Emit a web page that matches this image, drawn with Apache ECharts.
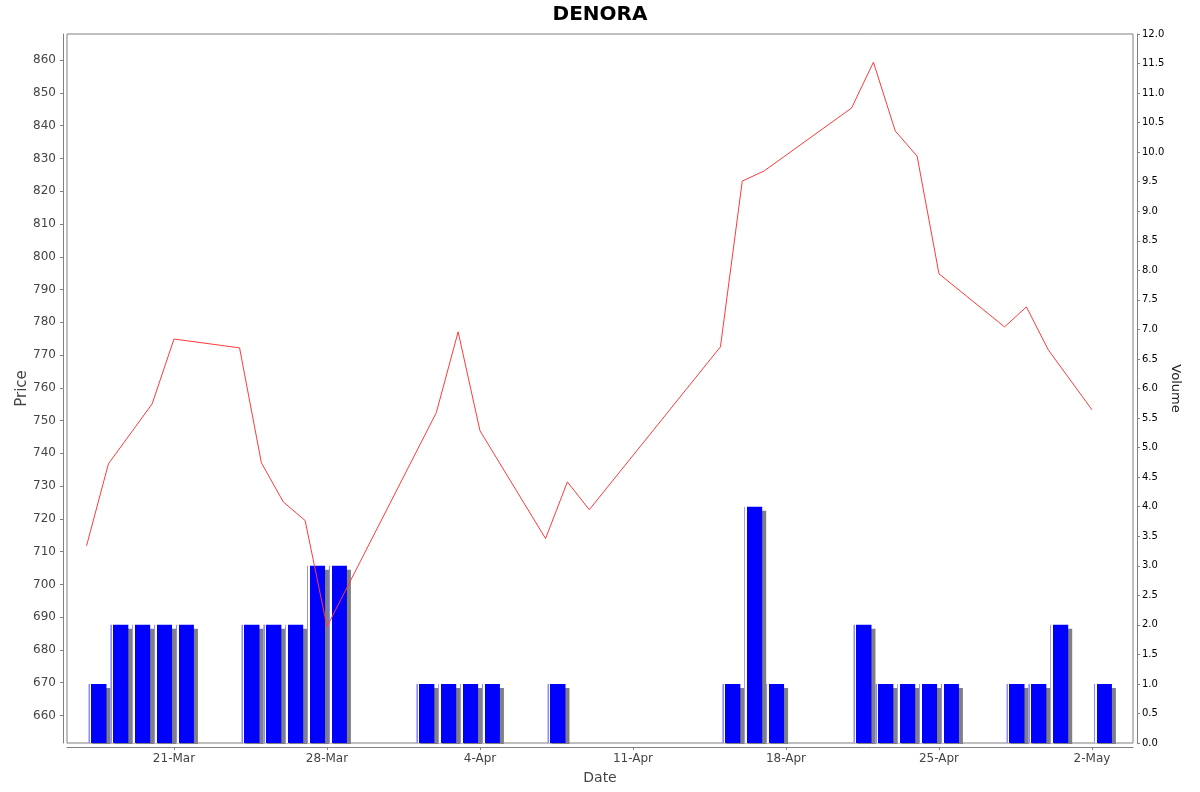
<!DOCTYPE html>
<html>
<head>
<meta charset="utf-8">
<script src="https://cdn.jsdelivr.net/npm/echarts@6/dist/echarts.min.js"></script>
<style>
  html, body { margin: 0; padding: 0; background: #fff; }
  #main { width: 1200px; height: 792px; }
</style>
</head>
<body>
<div id="main"></div>
<script>
// closing prices by trading day (2025)
const priceDates = ['2025-03-17', '2025-03-18', '2025-03-20', '2025-03-21', '2025-03-24', '2025-03-25',
  '2025-03-26', '2025-03-27', '2025-03-28', '2025-04-02', '2025-04-03', '2025-04-04', '2025-04-07',
  '2025-04-08', '2025-04-09', '2025-04-15', '2025-04-16', '2025-04-17', '2025-04-21', '2025-04-22',
  '2025-04-23', '2025-04-24', '2025-04-25', '2025-04-28', '2025-04-29', '2025-04-30', '2025-05-02'];
const prices = [711.8, 736.8, 755.1, 774.9, 772.2, 737.1,
  725.2, 719.5, 687.1, 752.4, 777.1, 746.9, 714.0,
  731.3, 722.8, 772.5, 823.1, 826.2, 845.4, 859.4,
  838.4, 830.7, 794.8, 778.6, 784.7, 771.6, 753.3];

// traded volume by day
const volDates = ['2025-03-17', '2025-03-18', '2025-03-19', '2025-03-20', '2025-03-21', '2025-03-24',
  '2025-03-25', '2025-03-26', '2025-03-27', '2025-03-28', '2025-04-01', '2025-04-02', '2025-04-03',
  '2025-04-04', '2025-04-07', '2025-04-15', '2025-04-16', '2025-04-17', '2025-04-21', '2025-04-22',
  '2025-04-23', '2025-04-24', '2025-04-25', '2025-04-28', '2025-04-29', '2025-04-30', '2025-05-02'];
const volumes = [1, 2, 2, 2, 2, 2,
  2, 2, 3, 3, 1, 1, 1,
  1, 1, 1, 4, 1, 2, 1,
  1, 1, 1, 1, 1, 2, 1];

const dateTicks = ['2025-03-21', '2025-03-28', '2025-04-04', '2025-04-11', '2025-04-18', '2025-04-25', '2025-05-02'];
const priceTicks = [660, 670, 680, 690, 700, 710, 720, 730, 740, 750, 760, 770, 780, 790, 800, 810, 820, 830, 840, 850, 860];

const DAY = 24 * 3600 * 1000;
const MONTHS = ['Jan', 'Feb', 'Mar', 'Apr', 'May', 'Jun', 'Jul', 'Aug', 'Sep', 'Oct', 'Nov', 'Dec'];

function toTime(s) {
  const p = s.split('-');
  return Date.UTC(+p[0], +p[1] - 1, +p[2]);
}

const xMin = toTime('2025-03-16') + 0.105 * DAY;
const xMax = toTime('2025-05-03') + 0.876 * DAY;

// bars cover the whole day, so centre them at midday
const barData = volDates.map((d, i) => [toTime(d) + DAY / 2, volumes[i]]);
const lineData = priceDates.map((d, i) => [toTime(d), prices[i]]);

const W = 1200, H = 792;
const GRID = { left: 67, right: 67, top: 34, bottom: 49 };

const chart = echarts.init(document.getElementById('main'));
const font = 'DejaVu Sans';

chart.setOption({
  backgroundColor: '#fff',
  animation: false,
  title: {
    text: 'DENORA',
    left: 'center',
    top: 0,
    textStyle: { fontFamily: font, fontSize: 20, fontWeight: 'bold', color: '#000' }
  },
  grid: {
    left: GRID.left, right: GRID.right, top: GRID.top, bottom: GRID.bottom,
    outerBoundsMode: 'none',
    containLabel: false,
    show: true, borderColor: '#808080', borderWidth: 1, backgroundColor: '#fff'
  },
  // white strip under the plot so the bar shadows stop at the plot edge
  graphic: [{
    type: 'rect',
    z: 100,
    silent: true,
    shape: { x: GRID.left, y: H - GRID.bottom + 1, width: W - GRID.left - GRID.right, height: 3 },
    style: { fill: '#fff' }
  }],
  xAxis: {
    type: 'value',
    min: xMin,
    max: xMax,
    offset: 4,
    name: 'Date',
    nameLocation: 'middle',
    nameGap: 24,
    nameTextStyle: { fontFamily: font, fontSize: 14, color: '#444' },
    axisLine: { show: true, onZero: false, lineStyle: { color: '#808080', width: 1 } },
    axisTick: { show: true, length: 3, customValues: dateTicks.map(toTime), lineStyle: { color: '#808080' } },
    axisLabel: {
      customValues: dateTicks.map(toTime),
      fontFamily: font, fontSize: 12, color: '#444', margin: 6,
      formatter: function (v) {
        const d = new Date(v);
        return d.getUTCDate() + '-' + MONTHS[d.getUTCMonth()];
      }
    },
    splitLine: { show: false }
  },
  yAxis: [
    {
      type: 'value',
      position: 'left',
      min: 651.6,
      max: 868.0,
      offset: 4,
      name: 'Price',
      nameLocation: 'middle',
      nameMoveOverlap: false,
      nameGap: 33,
      nameRotate: 90,
      nameTextStyle: { fontFamily: font, fontSize: 15, color: '#444' },
      axisLine: { show: true, onZero: false, lineStyle: { color: '#808080', width: 1 } },
      axisTick: { show: true, length: 3, customValues: priceTicks, lineStyle: { color: '#808080' } },
      axisLabel: { customValues: priceTicks, fontFamily: font, fontSize: 12, color: '#444', margin: 7 },
      splitLine: { show: false }
    },
    {
      type: 'value',
      position: 'right',
      min: 0,
      max: 12,
      interval: 0.5,
      offset: 4,
      name: 'Volume',
      nameLocation: 'middle',
      nameMoveOverlap: false,
      nameGap: 32,
      nameRotate: -90,
      nameTextStyle: { fontFamily: font, fontSize: 13, color: '#222' },
      axisLine: { show: true, onZero: false, lineStyle: { color: '#808080', width: 1 } },
      axisTick: { show: true, length: 3, lineStyle: { color: '#808080' } },
      axisLabel: {
        fontFamily: font, fontSize: 10, color: '#000', margin: 5,
        formatter: function (v) { return v.toFixed(1); }
      },
      splitLine: { show: false }
    }
  ],
  series: [
    {
      name: 'Volume',
      type: 'bar',
      yAxisIndex: 1,
      data: barData,
      barWidth: 18,
      z: 2,
      itemStyle: {
        color: new echarts.graphic.LinearGradient(0, 0, 1, 0, [
          { offset: 0, color: '#8c8cff' },
          { offset: 0.07, color: '#8c8cff' },
          { offset: 0.07, color: '#ffffff' },
          { offset: 0.15, color: '#ffffff' },
          { offset: 0.15, color: '#0000ff' },
          { offset: 1, color: '#0000ff' }
        ]),
        shadowColor: '#808080',
        shadowBlur: 0,
        shadowOffsetX: 4,
        shadowOffsetY: 4
      }
    },
    {
      name: 'Price',
      type: 'line',
      yAxisIndex: 0,
      data: lineData,
      showSymbol: false,
      z: 3,
      lineStyle: { color: '#ff3b3b', width: 1 }
    }
  ]
});
</script>
</body>
</html>
